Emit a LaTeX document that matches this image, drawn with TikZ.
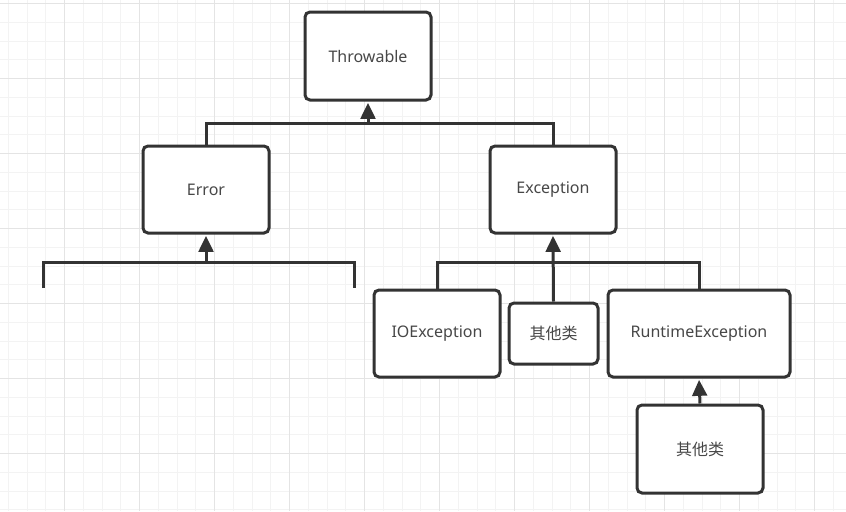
\documentclass[tikz,border=0pt]{standalone}
\usepackage{fontspec}
\setmainfont{Noto Sans}
\newfontfamily\cjk{Noto Sans CJK SC}
\usetikzlibrary{arrows.meta}
\definecolor{ink}{HTML}{333333}
\definecolor{gridminor}{HTML}{F3F3F3}
\definecolor{gridmajor}{HTML}{E4E4E4}

\begin{document}
\begin{tikzpicture}[x=0.75pt, y=-0.75pt,
    cls/.style 2 args={draw=ink, line width=2.25pt, rounded corners=3.75pt, fill=white,
      text=ink!90, font=\fontsize{12}{14}\selectfont, inner sep=0pt,
      minimum width=#1*0.75pt, minimum height=#2*0.75pt},
    link/.style={draw=ink, line width=2.25pt},
    inherit/.style={link, shorten >=1pt, -{Triangle[length=12pt, width=11pt]}}]
    \useasboundingbox (0,0) rectangle (846,511);
    \fill[white] (0,0) rectangle (846,511);
    \foreach \i in {0,...,44} \draw[gridminor, line width=0.75pt] ({8.45+18.75*\i},0) -- ({8.45+18.75*\i},511);
    \foreach \j in {0,...,27} \draw[gridminor, line width=0.75pt] (0,{3.7+18.75*\j}) -- (846,{3.7+18.75*\j});
    \foreach \i in {0,...,10} \draw[gridmajor, line width=0.75pt] ({64.7+75*\i},0) -- ({64.7+75*\i},511);
    \foreach \j in {0,...,6} \draw[gridmajor, line width=0.75pt] (0,{3.7+75*\j}) -- (846,{3.7+75*\j});

    \node[cls={126}{88}] (thr) at (368, 56) {Throwable};
    \node[cls={126}{87}] (err) at (206, 189.5) {Error};
    \node[cls={126}{87}] (exc) at (553, 189.5) {Exception};
    \node[cls={126}{87}] (io) at (437, 333.5) {IOException};
    \node[cls={89}{61}] (oth1) at (553.5, 333.5) {\cjk 其他类};
    \node[cls={182}{87}] (rt) at (699, 333.5) {RuntimeException};
    \node[cls={126}{88}] (oth2) at (700, 449) {\cjk 其他类};

    \coordinate (tj) at (368, 123);
    \coordinate (ej) at (206, 262);
    \coordinate (eL) at (43, 288);
    \coordinate (eR) at (354, 288);
    \coordinate (xj) at (553, 262);

    \draw[link] (err.north) |- (tj) -| (exc.north);
    \draw[inherit] (tj) -- (thr.south);
    \draw[link] (eL) |- (ej) -| (eR);
    \draw[inherit] (ej) -- (err.south);
    \draw[link] (io.north) |- (xj) -| (rt.north);
    \draw[inherit] (oth1.north) -- (exc.south);
    \draw[inherit] (oth2.north) -- (rt.south);
\end{tikzpicture}
\end{document}
